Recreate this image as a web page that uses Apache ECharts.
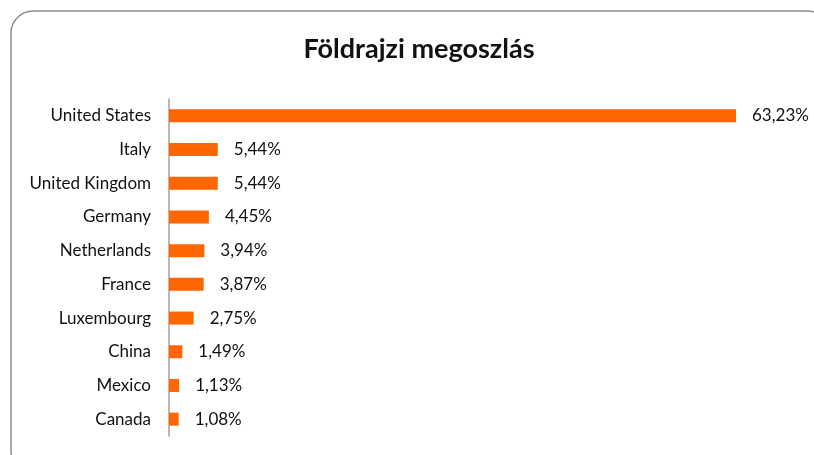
<!DOCTYPE html>
<html>
<head>
<meta charset="utf-8">
<script src="https://cdn.jsdelivr.net/npm/echarts@6/dist/echarts.min.js"></script>
<style>
  html, body { margin: 0; padding: 0; background: #fff; }
  #chart { width: 814px; height: 455px; }
</style>
</head>
<body>
<div id="chart"></div>
<script>
// Top-to-bottom order as shown in the picture
const countries = ['United States', 'Italy', 'United Kingdom', 'Germany', 'Netherlands',
  'France', 'Luxembourg', 'China', 'Mexico', 'Canada'];
const shares = [63.23, 5.44, 5.44, 4.45, 3.94, 3.87, 2.75, 1.49, 1.13, 1.08];

const labelFont = 'Lato, "Open Sans", sans-serif';

const chart = echarts.init(document.getElementById('chart'));
chart.setOption({
  backgroundColor: '#fff',
  animation: false,
  title: {
    text: 'Földrajzi megoszlás',
    left: 414,
    top: 31,
    textAlign: 'center',
    textStyle: { fontSize: 27, fontWeight: 'bold', color: '#111', fontFamily: labelFont },
  },
  graphic: [{
    type: 'rect',
    shape: { x: 11, y: 11, width: 818, height: 462, r: 22 },
    style: { fill: 'none', stroke: '#8c8c8c', lineWidth: 1.5 },
    silent: true,
  }],
  grid: { left: 169, top: 99, width: 627.7, height: 337 },
  xAxis: {
    type: 'value',
    min: 0,
    max: 70,
    show: false,
  },
  yAxis: {
    type: 'category',
    inverse: true,
    data: countries,
    axisLine: { show: true, lineStyle: { color: '#a0a0a0', width: 1.5 } },
    axisTick: { show: false },
    axisLabel: { color: '#111', fontSize: 17, margin: 18, fontFamily: labelFont },
  },
  series: [{
    type: 'bar',
    data: shares,
    barWidth: 13,
    itemStyle: { color: '#ff6600' },
    label: {
      show: true,
      position: 'right',
      distance: 16,
      color: '#111',
      fontSize: 17,
      fontFamily: labelFont,
      formatter: p => p.value.toFixed(2).replace('.', ',') + '%',
    },
  }],
});
</script>
</body>
</html>
